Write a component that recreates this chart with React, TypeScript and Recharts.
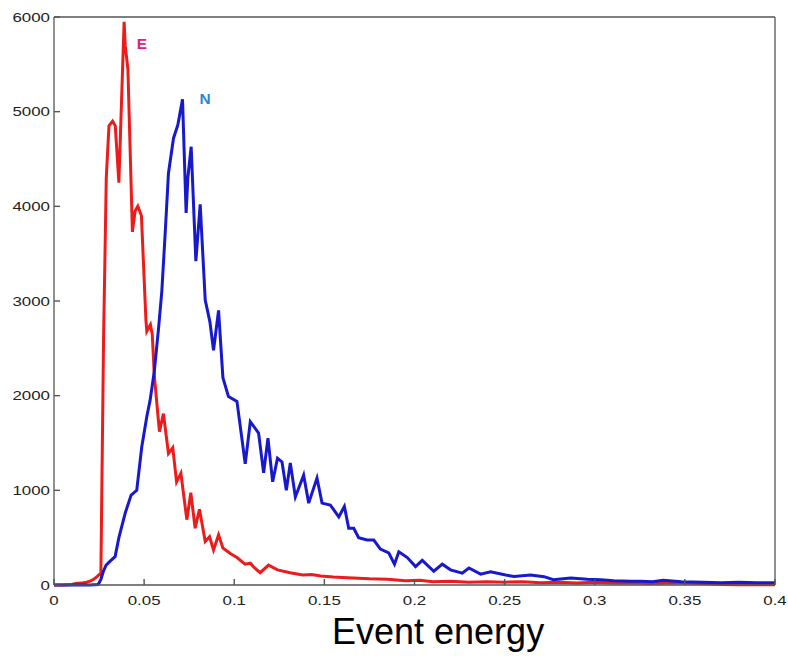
import React from "react";
import { LineChart, Line, XAxis, YAxis } from "recharts";

// E (red) histogram
const E_ENERGY = [
  0, 0.005, 0.01, 0.012, 0.015, 0.018, 0.02, 0.022, 0.024, 0.0255, 0.026, 0.0275, 0.029, 0.0305,
  0.0325, 0.034, 0.036, 0.0389, 0.0395, 0.041, 0.0435, 0.045, 0.0465, 0.0485, 0.051, 0.0515,
  0.0535, 0.0545, 0.0557, 0.0585, 0.0607, 0.0635, 0.0659, 0.068, 0.0704, 0.0737, 0.0759, 0.0783,
  0.0807, 0.0839, 0.0863, 0.0885, 0.0913, 0.0937, 0.098, 0.1015, 0.106, 0.109, 0.1107, 0.1144,
  0.119, 0.124, 0.131, 0.138, 0.143, 0.148, 0.155, 0.16, 0.166, 0.175, 0.185, 0.195, 0.203, 0.21,
  0.22, 0.23, 0.24, 0.25, 0.26, 0.27, 0.28, 0.29, 0.3, 0.31, 0.32, 0.33, 0.34, 0.35, 0.36, 0.37,
  0.38, 0.39, 0.4,
];
const E_COUNT = [
  0, 0, 5, 15, 20, 30, 40, 60, 90, 120, 110, 2600, 4300, 4850,
  4900, 4850, 4250, 5950, 5700, 5450, 3730, 3950, 4000, 3900, 2800, 2680,
  2750, 2650, 2200, 1620, 1810, 1390, 1450, 1090, 1180, 690, 975, 600,
  800, 460, 510, 370, 530, 390, 330, 290, 220, 230, 190, 130,
  210, 160, 130, 105, 110, 95, 85, 80, 75, 65, 60, 45, 50, 35,
  40, 30, 35, 30, 35, 25, 30, 20, 30, 20, 25, 15, 20, 20, 15, 5,
  3, 2, 2,
];

// N (blue) histogram
const N_ENERGY = [
  0, 0.01, 0.02, 0.0245, 0.026, 0.0275, 0.0289, 0.031, 0.0339, 0.036, 0.0395, 0.0428, 0.0459,
  0.0487, 0.0515, 0.0533, 0.0556, 0.058, 0.0598, 0.0617, 0.0635, 0.0663, 0.0687, 0.0713, 0.0733,
  0.0743, 0.0761, 0.0787, 0.0811, 0.0839, 0.0865, 0.0885, 0.0913, 0.0937, 0.0968, 0.1015, 0.1061,
  0.1089, 0.1135, 0.1163, 0.1187, 0.1213, 0.124, 0.1265, 0.1289, 0.1311, 0.1339, 0.1385, 0.1413,
  0.1459, 0.1487, 0.1533, 0.158, 0.1611, 0.1635, 0.1663, 0.169, 0.1737, 0.1774, 0.1811, 0.1857,
  0.1889, 0.1913, 0.196, 0.2006, 0.2043, 0.2107, 0.2154, 0.22, 0.2265, 0.2302, 0.2367, 0.2422,
  0.2506, 0.2552, 0.2644, 0.2719, 0.277, 0.2867, 0.2959, 0.3033, 0.3106, 0.32, 0.3256, 0.332,
  0.338, 0.348, 0.36, 0.37, 0.38, 0.39, 0.4,
];
const N_COUNT = [
  0, 0, 0, 5, 60, 150, 210, 250, 300, 500, 760, 950, 1000,
  1460, 1780, 1950, 2250, 2710, 3100, 3720, 4350, 4720, 4860, 5130, 3930,
  4310, 4630, 3420, 4020, 3010, 2780, 2480, 2900, 2190, 1990, 1940, 1280,
  1725, 1605, 1185, 1550, 1090, 1340, 1300, 1000, 1290, 930, 1160, 865,
  1130, 865, 845, 720, 830, 600, 600, 500, 475, 475, 380, 340,
  220, 350, 290, 195, 260, 145, 220, 160, 125, 180, 115, 140,
  105, 90, 105, 88, 55, 75, 60, 55, 45, 40, 40, 35,
  50, 35, 30, 25, 28, 25, 25,
];

const X_TICKS = [0, 0.05, 0.1, 0.15, 0.2, 0.25, 0.3, 0.35, 0.4];
const Y_TICKS = [0, 1000, 2000, 3000, 4000, 5000, 6000];

const eData = E_ENERGY.map((x, i) => ({ x, count: E_COUNT[i] }));
const nData = N_ENERGY.map((x, i) => ({ x, count: N_COUNT[i] }));

const FONT = "'Liberation Sans', Arial, sans-serif";
const FRAME = "#555";
const TICK_LINE = { stroke: FRAME, strokeWidth: 1.4 };

// labels look horizontally stretched in the original figure
const XTick = (props: any) => {
  const { x, y, payload } = props;
  return (
    <text
      transform={`translate(${x},${y}) scale(1.25,1)`}
      textAnchor="middle"
      dy="0.71em"
      fontSize={13.5}
      fontFamily={FONT}
      fill="#222"
    >
      {String(payload.value)}
    </text>
  );
};

const YTick = (props: any) => {
  const { x, y, payload } = props;
  return (
    <text
      transform={`translate(${x},${y}) scale(1.25,1)`}
      textAnchor="end"
      dy="0.355em"
      fontSize={13.5}
      fontFamily={FONT}
      fill="#222"
    >
      {String(payload.value)}
    </text>
  );
};

const NoLabel = () => <g />;

export default function App() {
  return (
    <div style={{ position: "relative", width: 788, height: 659, background: "#fff" }}>
      <style>{`body{margin:0}`}</style>
      <LineChart width={788} height={659} margin={{ top: 17, right: 13, bottom: 44, left: 0 }}>
        <XAxis
          dataKey="x"
          type="number"
          domain={[0, 0.4]}
          ticks={X_TICKS}
          allowDataOverflow
          height={30}
          tickLine={TICK_LINE}
          tickSize={-6}
          tickMargin={16}
          tick={<XTick />}
          stroke={FRAME}
          strokeWidth={1.3}
        />
        <XAxis
          xAxisId="top"
          orientation="top"
          type="number"
          domain={[0, 0.4]}
          ticks={X_TICKS}
          height={30}
          mirror
          tickLine={TICK_LINE}
          tickSize={6}
          tick={<NoLabel />}
          stroke={FRAME}
          strokeWidth={1.3}
        />
        <YAxis
          type="number"
          domain={[0, 6000]}
          ticks={Y_TICKS}
          width={54}
          tickLine={TICK_LINE}
          tickSize={-6}
          tickMargin={10}
          tick={<YTick />}
          stroke={FRAME}
          strokeWidth={1.3}
        />
        <YAxis
          yAxisId="right"
          orientation="right"
          type="number"
          domain={[0, 6000]}
          ticks={Y_TICKS}
          width={60}
          mirror
          tickLine={TICK_LINE}
          tickSize={6}
          tick={<NoLabel />}
          stroke={FRAME}
          strokeWidth={1.3}
        />
        <Line
          data={eData}
          dataKey="count"
          type="linear"
          stroke="#ec1c1c"
          strokeWidth={3}
          dot={false}
          isAnimationActive={false}
        />
        <Line
          data={nData}
          dataKey="count"
          type="linear"
          stroke="#1818cc"
          strokeWidth={3}
          dot={false}
          isAnimationActive={false}
        />
      </LineChart>
      <div
        style={{
          position: "absolute",
          left: 142,
          top: 44,
          transform: "translate(-50%,-50%) scaleX(1.1)",
          color: "#e0207a",
          fontFamily: FONT,
          fontWeight: "bold",
          fontSize: 14,
          lineHeight: 1,
        }}
      >
        E
      </div>
      <div
        style={{
          position: "absolute",
          left: 205,
          top: 99,
          transform: "translate(-50%,-50%) scaleX(1.1)",
          color: "#2a86d6",
          fontFamily: FONT,
          fontWeight: "bold",
          fontSize: 14,
          lineHeight: 1,
        }}
      >
        N
      </div>
      <div
        style={{
          position: "absolute",
          left: 332,
          top: 650,
          transform: "translateY(-100%)",
          fontFamily: FONT,
          fontSize: 36,
          lineHeight: "36px",
          color: "#000",
          whiteSpace: "nowrap",
        }}
      >
        Event energy
      </div>
    </div>
  );
}
